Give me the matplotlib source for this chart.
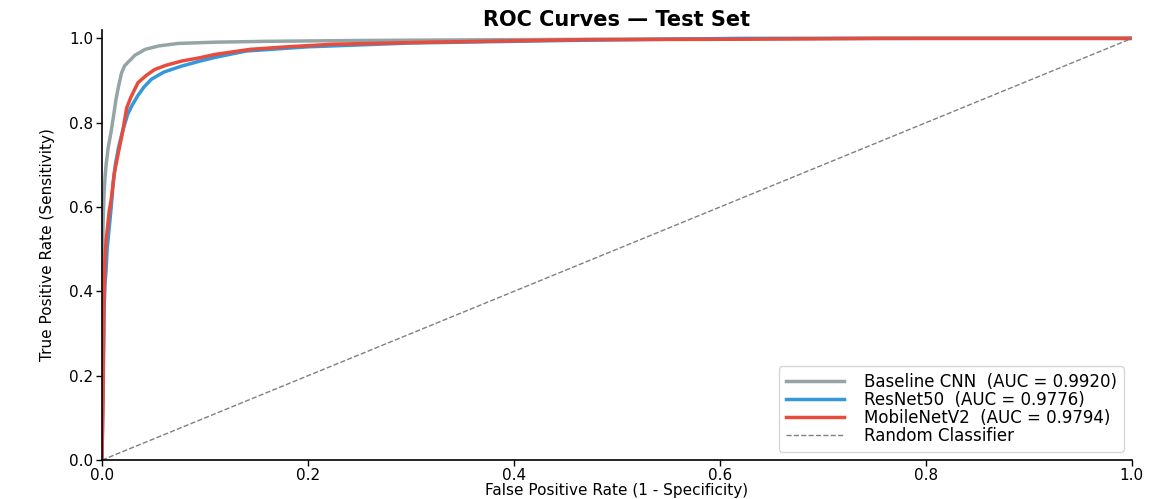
import matplotlib
matplotlib.use('Agg')
import matplotlib.pyplot as plt

# ROC points
base_fpr = [0, 0.0005, 0.001, 0.002, 0.003, 0.004, 0.006, 0.009, 0.0115, 0.0136, 0.016,
            0.019, 0.022, 0.026, 0.032, 0.042, 0.055, 0.074, 0.11, 0.16, 0.25, 0.4, 0.6, 0.8, 1.0]
base_tpr = [0, 0.3, 0.55, 0.63, 0.67, 0.70, 0.74, 0.78, 0.82, 0.855, 0.885,
            0.918, 0.935, 0.945, 0.96, 0.974, 0.982, 0.988, 0.991, 0.993, 0.995, 0.997, 0.999, 1.0, 1.0]

resnet_fpr = [0, 0.001, 0.002, 0.003, 0.004, 0.005, 0.007, 0.009, 0.011, 0.013, 0.016, 0.020,
              0.025, 0.029, 0.035, 0.041, 0.048, 0.060, 0.077, 0.095, 0.11, 0.14, 0.2, 0.3,
              0.45, 0.62, 0.8, 1.0]
resnet_tpr = [0, 0.15, 0.35, 0.42, 0.45, 0.50, 0.55, 0.60, 0.66, 0.70, 0.74, 0.78,
              0.82, 0.84, 0.865, 0.885, 0.903, 0.92, 0.934, 0.946, 0.955, 0.97, 0.98, 0.989,
              0.995, 1.0, 1.0, 1.0]

mobile_fpr = [0, 0.001, 0.002, 0.003, 0.004, 0.0055, 0.007, 0.009, 0.012, 0.016, 0.020, 0.024,
              0.028, 0.035, 0.043, 0.051, 0.062, 0.077, 0.095, 0.11, 0.144, 0.18, 0.224, 0.32,
              0.42, 0.47, 0.62, 0.75, 1.0]
mobile_tpr = [0, 0.14, 0.38, 0.48, 0.52, 0.554, 0.59, 0.618, 0.68, 0.73, 0.777, 0.835,
              0.86, 0.895, 0.912, 0.926, 0.936, 0.946, 0.954, 0.962, 0.974, 0.98, 0.986, 0.991,
              0.995, 0.997, 0.998, 1.0, 1.0]

labels = ['Baseline CNN  (AUC = 0.9920)', 'ResNet50  (AUC = 0.9776)',
          'MobileNetV2  (AUC = 0.9794)']
colors = ['#95a5a6', '#3498db', '#e74c3c']

fig = plt.figure(figsize=(11.52, 4.99), dpi=100)
ax = fig.add_axes([0.0885, 0.078, 0.894, 0.862])

curves = [(base_fpr, base_tpr), (resnet_fpr, resnet_tpr), (mobile_fpr, mobile_tpr)]
for (x, y), lab, c in zip(curves, labels, colors):
    ax.plot(x, y, color=c, lw=2.5, label=lab)
ax.plot([0, 1], [0, 1], ls='--', color='gray', lw=1, label='Random Classifier')

ax.set_xlim(0, 1)
ax.set_ylim(0, 1.02)
ax.set_xticks([0, 0.2, 0.4, 0.6, 0.8, 1.0])
ax.set_yticks([0, 0.2, 0.4, 0.6, 0.8, 1.0])
ax.tick_params(labelsize=11, length=4, width=1, pad=2)
for s in ['top', 'right']:
    ax.spines[s].set_visible(False)
for s in ['left', 'bottom']:
    ax.spines[s].set_linewidth(1.2)

ax.set_xlabel('False Positive Rate (1 - Specificity)', fontsize=11, labelpad=0)
ax.set_ylabel('True Positive Rate (Sensitivity)', fontsize=11, labelpad=10)
ax.set_title('ROC Curves — Test Set', fontsize=15, fontweight='bold', pad=3)

ax.legend(loc='lower right', fontsize=12, labelspacing=0.0, handlelength=3.5,
          borderpad=0.4, handletextpad=1.2)

fig.savefig('out.png', dpi=100)
